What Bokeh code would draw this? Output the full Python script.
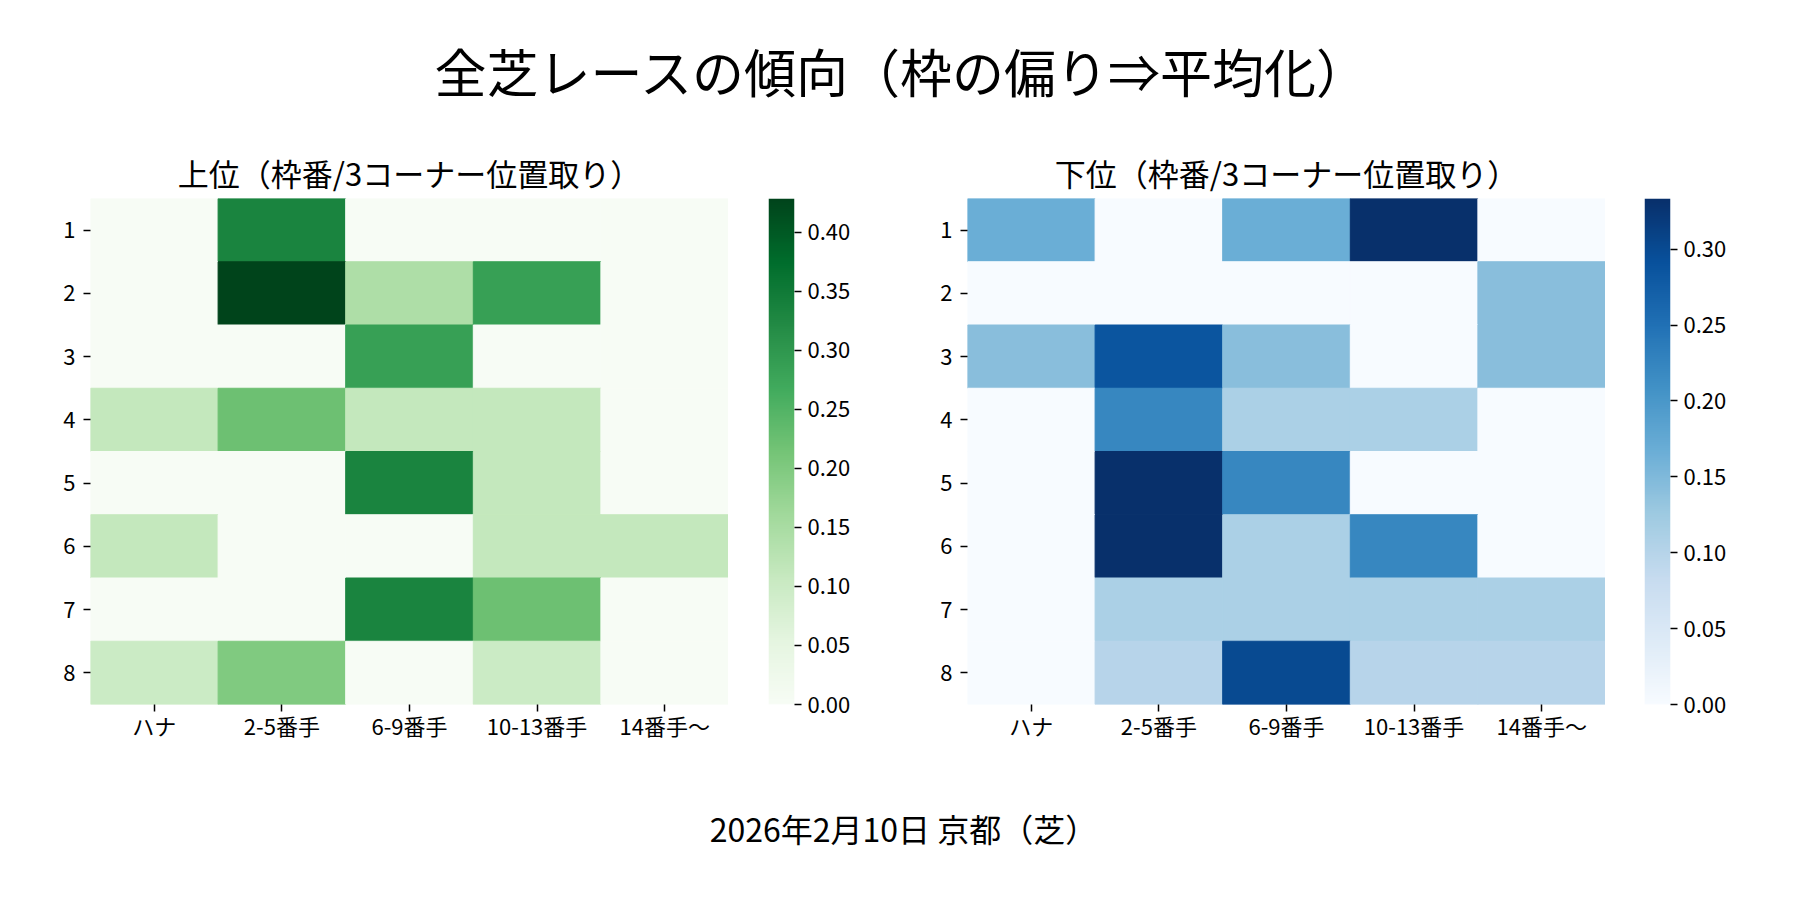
import numpy as np
from bokeh.plotting import figure
from bokeh.models import (FactorRange, Range1d, LinearColorMapper, LinearAxis,
                          FixedTicker, PrintfTickFormatter, ColumnDataSource)
from bokeh.layouts import column, row
from bokeh.embed import file_html
from bokeh.resources import INLINE
from bokeh.core.properties import value
from bokeh.palettes import Greens9, Blues9

# ---------------- data ----------------
TITLE = "全芝レースの傾向（枠の偏り⇒平均化）"
SUB_TOP = "上位（枠番/3コーナー位置取り）"
SUB_BOTTOM = "下位（枠番/3コーナー位置取り）"
FOOTER = "2026年2月10日 京都（芝）"

frames = ["1", "2", "3", "4", "5", "6", "7", "8"]
positions = ["ハナ", "2-5番手", "6-9番手", "10-13番手", "14番手〜"]

top_values = [
    [0, 1/3, 0, 0, 0],
    [0, 3/7, 1/7, 2/7, 0],
    [0, 0, 2/7, 0, 0],
    [1/9, 2/9, 1/9, 1/9, 0],
    [0, 0, 1/3, 1/9, 0],
    [1/9, 0, 0, 1/9, 1/9],
    [0, 0, 1/3, 2/9, 0],
    [0.1, 0.2, 0, 0.1, 0],
]
bottom_values = [
    [1/6, 0, 1/6, 1/3, 0],
    [0, 0, 0, 0, 1/7],
    [1/7, 2/7, 1/7, 0, 1/7],
    [0, 2/9, 1/9, 1/9, 0],
    [0, 1/3, 2/9, 0, 0],
    [0, 1/3, 1/9, 2/9, 0],
    [0, 1/9, 1/9, 1/9, 1/9],
    [0, 0.1, 0.3, 0.1, 0.1],
]
top_ticks = [0.0, 0.05, 0.10, 0.15, 0.20, 0.25, 0.30, 0.35, 0.40]
bottom_ticks = [0.0, 0.05, 0.10, 0.15, 0.20, 0.25, 0.30]

FONT = "Noto Sans CJK JP"
TXT = "#000000"


def lum(c):
    return sum(int(c[i:i + 2], 16) for i in (1, 3, 5))


def interp(anchors, n=256):
    anchors = list(anchors)
    if lum(anchors[0]) < lum(anchors[-1]):
        anchors = anchors[::-1]
    cols = [tuple(int(c[i:i + 2], 16) for i in (1, 3, 5)) for c in anchors]
    m = len(cols) - 1
    out = []
    for k in range(n):
        t = k / (n - 1) * m
        i = min(int(t), m - 1)
        f = t - i
        rgb = [round(cols[i][j] + (cols[i + 1][j] - cols[i][j]) * f) for j in range(3)]
        out.append("#%02x%02x%02x" % tuple(rgb))
    return out


GREENS = interp(Greens9)
BLUES = interp(Blues9)

HEAT_W, HEAT_H = 638, 506
BOTTOM_B = 60


def style_axis(ax, standoff):
    ax.axis_line_color = None
    ax.major_tick_in = 0
    ax.major_tick_out = 7
    ax.major_tick_line_width = 1.5
    ax.major_tick_line_color = TXT
    ax.minor_tick_line_color = None
    ax.major_label_text_font = FONT
    ax.major_label_text_font_size = "22px"
    ax.major_label_text_color = TXT
    ax.major_label_standoff = standoff


def heat(mat, pal, border_left):
    vmax = max(max(r) for r in mat)
    xs, ys, vs = [], [], []
    for i, r in enumerate(frames):
        for j, c in enumerate(positions):
            xs.append(c)
            ys.append(r)
            vs.append(mat[i][j])
    src = ColumnDataSource(dict(x=xs, y=ys, v=vs))
    mapper = LinearColorMapper(palette=pal, low=0, high=vmax)
    p = figure(width=border_left + HEAT_W, height=HEAT_H + BOTTOM_B,
               x_range=FactorRange(*positions),
               y_range=FactorRange(*reversed(frames)),
               output_backend="svg", toolbar_location=None,
               min_border_left=border_left, min_border_right=0,
               min_border_top=0, min_border_bottom=BOTTOM_B)
    p.rect(x="x", y="y", width=1, height=1, source=src,
           fill_color={"field": "v", "transform": mapper},
           line_color={"field": "v", "transform": mapper}, line_width=1)
    p.grid.grid_line_color = None
    p.outline_line_color = None
    style_axis(p.xaxis[0], -3)
    style_axis(p.yaxis[0], 8)
    return p, vmax


def cbar(pal, vmax, ticks, gap, right):
    mapper = LinearColorMapper(palette=pal, low=0, high=vmax)
    p = figure(width=gap + 26 + right, height=HEAT_H + BOTTOM_B,
               x_range=Range1d(0, 1), y_range=Range1d(0, vmax),
               output_backend="svg", toolbar_location=None,
               x_axis_location=None, y_axis_location=None,
               min_border_left=gap, min_border_right=right,
               min_border_top=0, min_border_bottom=BOTTOM_B)
    grad = np.linspace(0, vmax, 256).reshape(256, 1)
    p.image(image=[grad], x=0, y=0, dw=1, dh=vmax, color_mapper=mapper)
    ax = LinearAxis(ticker=FixedTicker(ticks=ticks),
                    formatter=PrintfTickFormatter(format="%.2f"))
    style_axis(ax, 6)
    p.add_layout(ax, "right")
    p.grid.grid_line_color = None
    p.outline_line_color = None
    return p


LEFT_B = 90
left, vmax_l = heat(top_values, GREENS, LEFT_B)
cb_l = cbar(GREENS, vmax_l, top_ticks, 40, 100)
RIGHT_B = 73
right, vmax_r = heat(bottom_values, BLUES, RIGHT_B)
cb_r = cbar(BLUES, vmax_r, bottom_ticks, 39, 80)

W = 1760
TOP_H = 198
FOOT_H = 128

left_center = LEFT_B + HEAT_W / 2
right_center = LEFT_B + HEAT_W + 40 + 26 + 100 + RIGHT_B + HEAT_W / 2


def text_fig(h):
    p = figure(width=W, height=h, x_range=Range1d(0, W), y_range=Range1d(0, h),
               output_backend="svg", toolbar_location=None,
               x_axis_location=None, y_axis_location=None, min_border=0)
    p.grid.grid_line_color = None
    p.outline_line_color = None
    return p


head = text_fig(TOP_H)
head.text(x=[902], y=[TOP_H - 70], text=[TITLE], text_font=value(FONT),
          text_font_size="52px", text_align="center", text_baseline="middle",
          text_color=TXT)
head.text(x=[left_center, right_center], y=[TOP_H - 172, TOP_H - 172],
          text=[SUB_TOP, SUB_BOTTOM], text_font=value(FONT),
          text_font_size="31px", text_align="center", text_baseline="middle",
          text_color=TXT)

foot = text_fig(FOOT_H)
foot.text(x=[903], y=[FOOT_H - 63], text=[FOOTER], text_font=value(FONT),
          text_font_size="32px", text_align="center", text_baseline="middle",
          text_color=TXT)

layout = column(head, row(left, cb_l, right, cb_r), foot)

open("out.html", "w").write(file_html(layout, INLINE))
